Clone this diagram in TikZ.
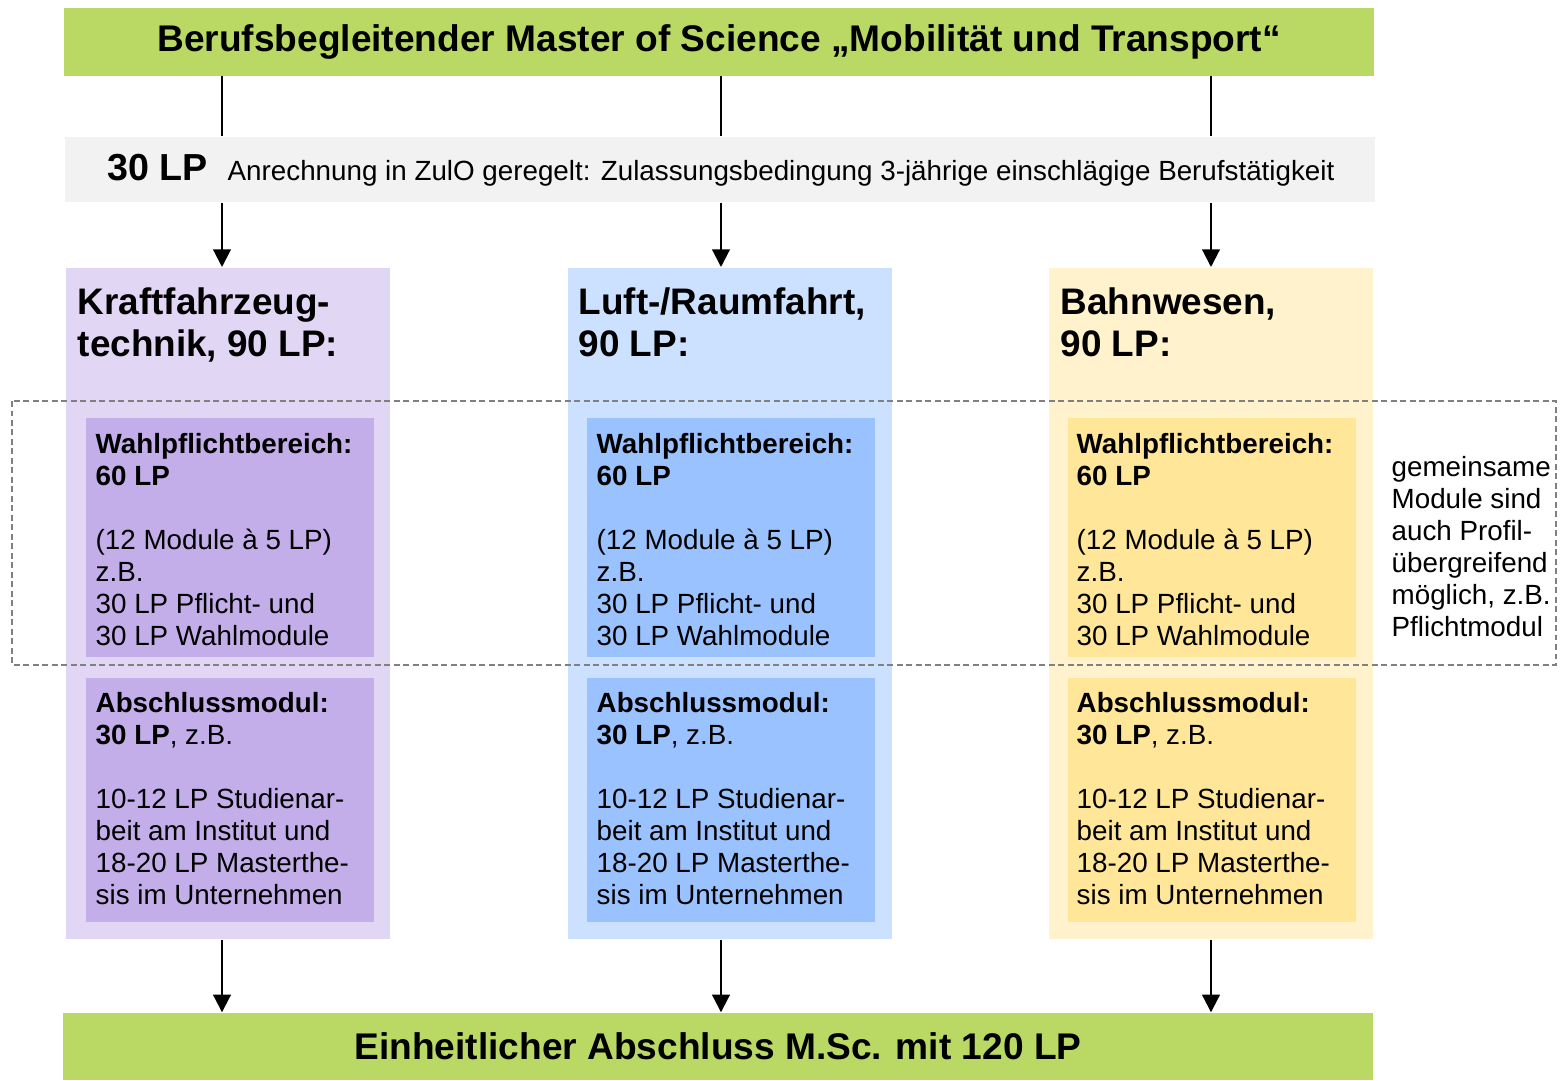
\documentclass[tikz,border=0pt]{standalone}
\usepackage{fontspec}
\setmainfont{Liberation Sans}
\usetikzlibrary{arrows.meta}
\definecolor{lpgreen}{RGB}{185,217,100}
\definecolor{lpgray}{RGB}{242,242,242}
\definecolor{kfzout}{RGB}{225,214,244}
\definecolor{kfzin}{RGB}{195,174,234}
\definecolor{luftout}{RGB}{204,224,255}
\definecolor{luftin}{RGB}{153,194,255}
\definecolor{bahnout}{RGB}{255,242,204}
\definecolor{bahnin}{RGB}{255,230,153}
\tikzstyle{bar} = [rectangle, fill=lpgreen, minimum width=13.1cm,
    minimum height=0.67cm, inner sep=0pt, font=\fontsize{10.55}{12}\selectfont\bfseries]
\tikzstyle{graybar} = [rectangle, fill=lpgray, minimum width=13.1cm,
    minimum height=0.65cm, inner sep=0pt]
\tikzstyle{column} = [rectangle, anchor=north west, minimum width=3.24cm,
    minimum height=6.71cm, inner sep=0pt]
\tikzstyle{inbox} = [rectangle, anchor=north west, minimum width=2.88cm, inner sep=0pt]
\tikzstyle{head} = [anchor=north west, align=left, inner sep=0pt,
    font=\fontsize{10.5}{12}\selectfont\bfseries]
\tikzstyle{body} = [anchor=north west, align=left, inner sep=0pt,
    font=\fontsize{7.9}{9.1}\selectfont]
\tikzstyle{line} = [draw, line width=0.6pt, -{Triangle[length=5pt,width=5pt]}]
\tikzstyle{plain} = [draw, line width=0.6pt]
\tikzstyle{frame} = [draw=gray, line width=0.5pt, dash pattern=on 1.7pt off 1pt]
\newcommand{\wahltext}{\textbf{Wahlpflichtbereich:}\\ \textbf{60 LP}\\[9.1pt]
    (12 Module à 5 LP)\\ z.B.\\ 30 LP Pflicht- und\\ 30 LP Wahlmodule}
\newcommand{\abtext}{\textbf{Abschlussmodul:}\\ \textbf{30 LP}, z.B.\\[9.1pt]
    10-12 LP Studienar-\\ beit am Institut und\\ 18-20 LP Masterthe-\\ sis im Unternehmen}
\begin{document}
\begin{tikzpicture}[x=0.01cm, y=-0.01cm]
  \useasboundingbox (0,0) rectangle (1562,1081);
  % Place nodes
  \node[bar] (title) at (719,42) {Berufsbegleitender Master of Science „Mobilität und Transport“};
  \node[graybar] (zulo) at (720,169.5) {};
  \node[anchor=base west, inner sep=0pt, font=\fontsize{10.7}{12}\selectfont\bfseries]
    (lp30) at (107,180) {30 LP};
  \node[anchor=base west, inner sep=0pt, font=\fontsize{7.9}{9.1}\selectfont]
    (anr) at (227,180) {Anrechnung in ZulO geregelt: Zulassungsbedingung 3-jährige einschlägige Berufstätigkeit};

  \node[column, fill=kfzout] (kfz) at (65,267) {};
  \node[column, fill=luftout] (luft) at (567,267) {};
  \node[column, fill=bahnout] (bahn) at (1048,267) {};

  \node[inbox, fill=kfzin, minimum height=2.39cm] (kfzwp) at (85,417) {};
  \node[inbox, fill=kfzin, minimum height=2.44cm] (kfzab) at (85,677) {};
  \node[inbox, fill=luftin, minimum height=2.39cm] (luftwp) at (586,417) {};
  \node[inbox, fill=luftin, minimum height=2.44cm] (luftab) at (586,677) {};
  \node[inbox, fill=bahnin, minimum height=2.39cm] (bahnwp) at (1067,417) {};
  \node[inbox, fill=bahnin, minimum height=2.44cm] (bahnab) at (1067,677) {};

  \node[head] (kfzhead) at (77,287) {Kraftfahrzeug-\\technik, 90 LP:};
  \node[head] (lufthead) at (578,287) {Luft-/Raumfahrt,\\90 LP:};
  \node[head] (bahnhead) at (1060,287) {Bahnwesen,\\90 LP:};

  \node[body] (kfzwpt) at (95,433) {\wahltext};
  \node[body] (kfzabt) at (95,692) {\abtext};
  \node[body] (luftwpt) at (596,433) {\wahltext};
  \node[body] (luftabt) at (596,692) {\abtext};
  \node[body] (bahnwpt) at (1076,433) {\wahltext};
  \node[body] (bahnabt) at (1076,692) {\abtext};

  \draw[frame] (12,401) rectangle (1556,665);
  \node[body] (gemeinsam) at (1391,456) {gemeinsame\\ Module sind\\ auch Profil-\\ übergreifend\\ möglich, z.B.\\ Pflichtmodul};

  \node[bar] (msc) at (718,1046.5) {Einheitlicher Abschluss M.Sc. mit 120 LP};

  \coordinate (p1) at (222,0);
  \coordinate (p2) at (721,0);
  \coordinate (p3) at (1211,0);

  % Draw edges
  \path[plain] (title.south -| p1) -- (zulo.north -| p1);
  \path[plain] (title.south -| p2) -- (zulo.north -| p2);
  \path[plain] (title.south -| p3) -- (zulo.north -| p3);
  \path[line] (zulo.south -| p1) -- (kfz.north -| p1);
  \path[line] (zulo.south -| p2) -- (luft.north -| p2);
  \path[line] (zulo.south -| p3) -- (bahn.north -| p3);
  \path[line] (kfz.south -| p1) -- (msc.north -| p1);
  \path[line] (luft.south -| p2) -- (msc.north -| p2);
  \path[line] (bahn.south -| p3) -- (msc.north -| p3);
\end{tikzpicture}
\end{document}
